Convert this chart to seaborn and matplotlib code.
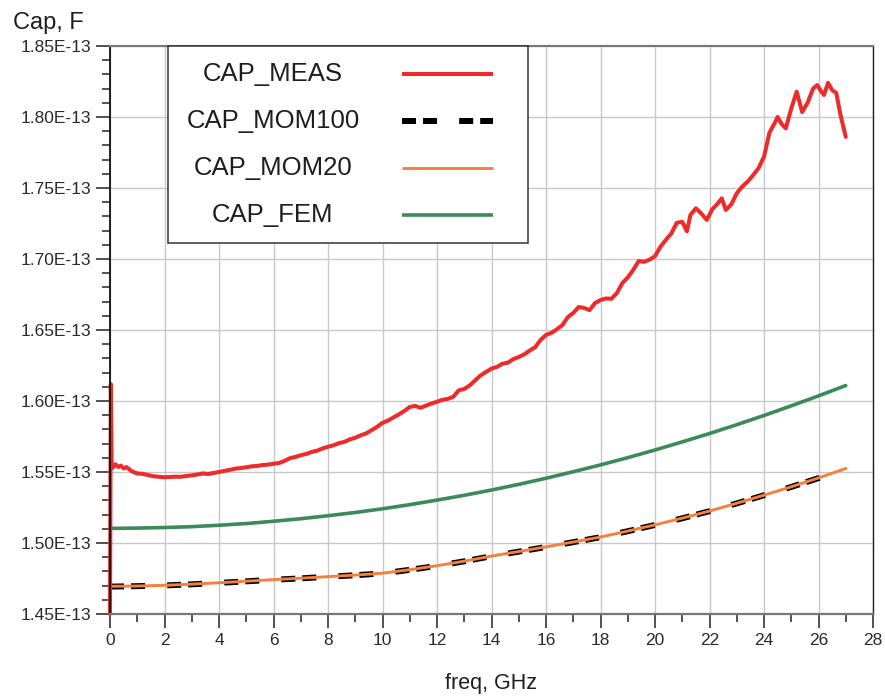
import numpy as np
import pandas as pd
import matplotlib
matplotlib.use("Agg")
import matplotlib.pyplot as plt
from matplotlib.ticker import MultipleLocator, FuncFormatter
from matplotlib.patches import Rectangle
import seaborn as sns

# ---- data (capacitance in units of 1E-13 F, frequency in GHz) ----
meas_freq = [
    0.00, 0.03, 0.06, 0.10, 0.20, 0.30, 0.40, 0.50, 0.60, 0.80,
    1.00, 1.20, 1.40, 1.60, 1.80, 2.00, 2.20, 2.40, 2.60, 2.80,
    3.00, 3.20, 3.40, 3.60, 3.80, 4.00, 4.20, 4.40, 4.60, 4.80,
    5.00, 5.20, 5.40, 5.60, 5.80, 6.00, 6.20, 6.40, 6.60, 6.80,
    7.00, 7.20, 7.40, 7.60, 7.80, 8.00, 8.20, 8.40, 8.60, 8.80,
    9.00, 9.20, 9.40, 9.60, 9.80, 10.00, 10.20, 10.40, 10.60, 10.80,
    11.00, 11.20, 11.40, 11.60, 11.80, 12.00, 12.20, 12.40, 12.60, 12.80,
    13.00, 13.20, 13.40, 13.60, 13.80, 14.00, 14.20, 14.40, 14.60, 14.80,
    15.00, 15.20, 15.40, 15.60, 15.80, 16.00, 16.20, 16.40, 16.60, 16.80,
    17.00, 17.20, 17.40, 17.60, 17.80, 18.00, 18.20, 18.40, 18.60, 18.80,
    19.00, 19.20, 19.40, 19.60, 19.80, 20.00, 20.20, 20.40, 20.60, 20.80,
    21.00, 21.17, 21.30, 21.50, 21.70, 21.90, 22.10, 22.30, 22.45, 22.60,
    22.80, 23.00, 23.20, 23.40, 23.60, 23.80, 24.00, 24.20, 24.40, 24.50,
    24.65, 24.80, 25.00, 25.20, 25.40, 25.60, 25.80, 25.95, 26.10, 26.20,
    26.35, 26.50, 26.65, 26.80, 27.00,
]
cap_meas = [
    1.4500, 1.6120, 1.5560, 1.5530, 1.5555, 1.5535, 1.5545, 1.5525, 1.5535, 1.5505,
    1.5490, 1.5487, 1.5478, 1.5470, 1.5466, 1.5463, 1.5465, 1.5467, 1.5466, 1.5472,
    1.5476, 1.5482, 1.5490, 1.5486, 1.5493, 1.5500, 1.5508, 1.5515, 1.5524, 1.5528,
    1.5533, 1.5540, 1.5543, 1.5549, 1.5552, 1.5558, 1.5563, 1.5578, 1.5597, 1.5606,
    1.5618, 1.5627, 1.5641, 1.5650, 1.5666, 1.5678, 1.5688, 1.5703, 1.5712, 1.5730,
    1.5741, 1.5758, 1.5772, 1.5795, 1.5818, 1.5846, 1.5862, 1.5884, 1.5905, 1.5930,
    1.5958, 1.5965, 1.5952, 1.5968, 1.5982, 1.5995, 1.6008, 1.6015, 1.6030, 1.6075,
    1.6085, 1.6110, 1.6145, 1.6180, 1.6205, 1.6228, 1.6240, 1.6262, 1.6270, 1.6295,
    1.6310, 1.6328, 1.6355, 1.6378, 1.6430, 1.6465, 1.6480, 1.6505, 1.6535, 1.6590,
    1.6620, 1.6662, 1.6655, 1.6640, 1.6690, 1.6711, 1.6722, 1.6720, 1.6760, 1.6830,
    1.6870, 1.6923, 1.6985, 1.6980, 1.6995, 1.7020, 1.7087, 1.7135, 1.7180, 1.7255,
    1.7262, 1.7195, 1.7310, 1.7357, 1.7320, 1.7275, 1.7350, 1.7390, 1.7427, 1.7345,
    1.7385, 1.7463, 1.7510, 1.7545, 1.7590, 1.7640, 1.7720, 1.7890, 1.7960, 1.8000,
    1.7950, 1.7920, 1.8060, 1.8178, 1.8035, 1.8100, 1.8200, 1.8225, 1.8180, 1.8155,
    1.8240, 1.8190, 1.8170, 1.8020, 1.7860,
]

sim_freq = list(range(0, 28))
cap_mom20 = [
    1.4695, 1.4697, 1.4702, 1.4710, 1.4720, 1.4731, 1.4742, 1.4752, 1.4763, 1.4774,
    1.4787, 1.4812, 1.4840, 1.4872, 1.4908, 1.4940, 1.4973, 1.5007, 1.5042, 1.5084,
    1.5128, 1.5175, 1.5225, 1.5280, 1.5337, 1.5396, 1.5458, 1.5525,
]
mom100_freq = list(range(0, 27)) + [26.3]
cap_mom100 = [
    1.4693, 1.4696, 1.4701, 1.4709, 1.4719, 1.4730, 1.4741, 1.4751, 1.4762, 1.4773,
    1.4786, 1.4811, 1.4839, 1.4871, 1.4907, 1.4939, 1.4972, 1.5006, 1.5041, 1.5083,
    1.5127, 1.5174, 1.5224, 1.5279, 1.5336, 1.5395, 1.5457, 1.5478,
]
cap_fem = [
    1.5103, 1.5105, 1.5109, 1.5115, 1.5125, 1.5137, 1.5153, 1.5171, 1.5192, 1.5215,
    1.5241, 1.5270, 1.5302, 1.5336, 1.5373, 1.5413, 1.5456, 1.5502, 1.5550, 1.5601,
    1.5655, 1.5712, 1.5771, 1.5833, 1.5898, 1.5966, 1.6036, 1.6109,
]

series_names = ["CAP_MEAS", "CAP_MOM100", "CAP_MOM20", "CAP_FEM"]
series_colors = ["#ee2a2a", "#000000", "#f5803e", "#3b8a5a"]

SCALE = 1e-13
DASH = (0, (2.35, 1.17, 2.35, 3.7))

sns.set_style("white")
plt.rcParams["font.family"] = ["Liberation Sans", "DejaVu Sans"]
TXT = "#1e1e1e"

fig = plt.figure(figsize=(8.85, 6.98), dpi=100)
ax = fig.add_axes([110 / 885, 1 - 614 / 698, 763 / 885, 568 / 698])

meas_df = pd.DataFrame({"freq": meas_freq, "cap": np.array(cap_meas) * SCALE})
mom20_df = pd.DataFrame({"freq": sim_freq, "cap": np.array(cap_mom20) * SCALE})
mom100_df = pd.DataFrame({"freq": mom100_freq, "cap": np.array(cap_mom100) * SCALE})
fem_df = pd.DataFrame({"freq": sim_freq, "cap": np.array(cap_fem) * SCALE})

kw = dict(x="freq", y="cap", ax=ax, estimator=None, sort=False, legend=False)
sns.lineplot(data=fem_df, color=series_colors[3], lw=2.6, **kw)
sns.lineplot(data=mom100_df, color=series_colors[1], lw=4.3, linestyle=DASH, **kw)
sns.lineplot(data=mom20_df, color=series_colors[2], lw=2.1, **kw)
sns.lineplot(data=meas_df, color=series_colors[0], lw=2.9, **kw)
ax.lines[-1].set_clip_on(False)

# axes, ticks and grid
ax.set_xlim(0, 28)
ax.set_ylim(1.45 * SCALE, 1.85 * SCALE)
ax.xaxis.set_major_locator(MultipleLocator(2))
ax.xaxis.set_minor_locator(MultipleLocator(1))
ax.yaxis.set_major_locator(MultipleLocator(0.05 * SCALE))
ax.yaxis.set_minor_locator(MultipleLocator(0.01 * SCALE))
ax.yaxis.set_major_formatter(FuncFormatter(lambda v, _: f"{v / SCALE:.2f}E-13"))
ax.xaxis.set_major_formatter(FuncFormatter(lambda v, _: f"{v:.0f}"))
ax.yaxis.offsetText.set_visible(False)

ax.grid(True, which="major", color="#c8c8c8", lw=1.0)
ax.set_axisbelow(True)
ax.tick_params(axis="both", which="major", direction="out", length=10, width=1.1,
               color="#222222", labelsize=12.5, labelcolor="#2a2a2a", pad=3.5)
ax.tick_params(axis="both", which="minor", direction="out", length=5.5, width=1.1,
               color="#222222")
ax.tick_params(axis="x", bottom=True, which="both")
ax.tick_params(axis="y", left=True, which="both")

for side, col, w in [("left", "#111111", 1.3), ("right", "#222222", 1.0),
                     ("top", "#777777", 1.5), ("bottom", "#777777", 1.6)]:
    ax.spines[side].set_visible(True)
    ax.spines[side].set_color(col)
    ax.spines[side].set_linewidth(w)

ax.set_xlabel("")
ax.set_ylabel("")
fig.text(13 / 885, 1 - 29 / 698, "Cap, F", fontsize=17, color=TXT,
         ha="left", va="baseline")
fig.text(491 / 885, 1 - 683 / 698, "freq, GHz", fontsize=15.5, color=TXT,
         ha="center", va="center")

# legend box: names on the left, line samples on the right
box = Rectangle((0.076, 0.653), 0.548 - 0.076, 1.0 - 0.653, transform=ax.transAxes,
                facecolor="white", edgecolor="#333333", lw=1.1, zorder=5, clip_on=False)
ax.add_patch(box)
row_y = [0.9507, 0.868, 0.785, 0.7025]
styles = [dict(lw=2.9), dict(lw=4.3, linestyle=DASH), dict(lw=2.1), dict(lw=2.6)]
for name, col, yy, st in zip(series_names, series_colors, row_y, styles):
    ax.text(0.2136, yy, name, transform=ax.transAxes, fontsize=18.5, color=TXT,
            ha="center", va="center", zorder=6)
    ax.plot([0.3827, 0.502], [yy, yy], transform=ax.transAxes, color=col,
            zorder=6, solid_capstyle="butt", dash_capstyle="butt", **st)

fig.savefig("out.png", dpi=100)
